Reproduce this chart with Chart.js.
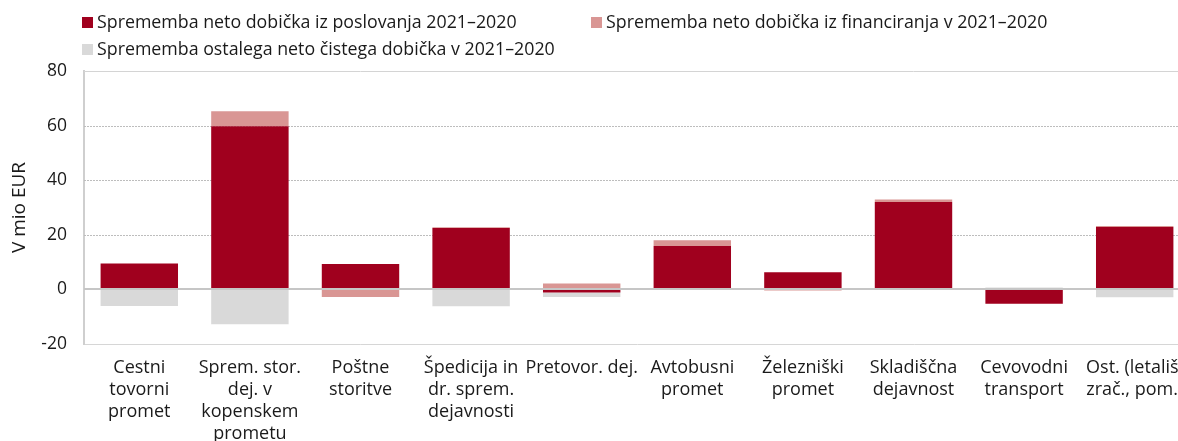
<!DOCTYPE html>
<html lang="sl">
<head>
<meta charset="UTF-8">
<title>Sprememba neto dobička 2021–2020</title>
<script src="https://cdn.jsdelivr.net/npm/chart.js"></script>
<style>
  html, body { margin: 0; padding: 0; background: #fff; overflow: hidden; }
  body { width: 1178px; height: 441px; position: relative; font-family: "Open Sans", sans-serif; color: #1a1a1a; }
  .wrap { position: absolute; left: 0; top: 0; width: 1190px; height: 441px; }
  .legend { position: absolute; left: 0; top: 8px; width: 1178px; font-size: 17.8px; line-height: 27px; }
  .item { position: absolute; white-space: nowrap; }
  .i0 { left: 82px; top: 0; }
  .i1 { left: 591px; top: 0; }
  .i2 { left: 82px; top: 27px; }
  .box { display: inline-block; width: 11px; height: 11px; margin-right: 4px; }
</style>
</head>
<body>
<div class="wrap"><canvas id="chart"></canvas></div>
<div class="legend" id="legend"></div>

<script>
  // kategorije (vrstice oznak na osi x)
  const categories = [
    ["Cestni", "tovorni", "promet"],
    ["Sprem. stor.", "dej. v", "kopenskem", "prometu"],
    ["Poštne", "storitve"],
    ["Špedicija in", "dr. sprem.", "dejavnosti"],
    ["Pretovor. dej."],
    ["Avtobusni", "promet"],
    ["Železniški", "promet"],
    ["Skladiščna", "dejavnost"],
    ["Cevovodni", "transport"],
    ["Ost. (letališ.", "zrač., pom.)"]
  ];

  const seriesNames = [
    "Sprememba neto dobička iz poslovanja 2021–2020",
    "Sprememba neto dobička iz financiranja v 2021–2020",
    "Sprememba ostalega neto čistega dobička v 2021–2020"
  ];

  // v mio EUR
  const poslovanje   = [9.5, 59.8, 9.3, 22.5, -1.1, 15.9, 6.3, 32.0, -5.3, 22.9];
  const financiranje = [0.0, 5.5, -2.8, 0.3, 2.2, 2.1, -0.4, 0.9, 0.0, 0.3];
  const ostalo       = [-6.1, -12.8, 0.0, -6.2, -1.7, 0.0, 0.0, 0.0, 0.7, -2.9];

  const yTicks = [-20, 0, 20, 40, 60, 80];
  const yTitle = "V mio EUR";

  const colors = ["#a0001e", "#d99694", "#d9d9d9"];
  const FONT = "'Open Sans', sans-serif";
  const TEXT = "#1a1a1a";

  // legenda
  const legend = document.getElementById("legend");
  seriesNames.forEach((name, i) => {
    const el = document.createElement("div");
    el.className = "item i" + i;
    el.innerHTML = `<span class="box" style="background:${colors[i]}"></span>${name}`;
    legend.appendChild(el);
  });

  // pikaste mrezne crte pod stolpci, zgornja crta polna
  const gridLines = {
    id: "gridLines",
    beforeDatasetsDraw(chart) {
      const { ctx, chartArea, scales } = chart;
      const top = yTicks[yTicks.length - 1];
      ctx.save();
      ctx.lineWidth = 1;
      yTicks.forEach(v => {
        if (v === 0 || v === yTicks[0]) return;
        const py = Math.round(scales.y.getPixelForValue(v)) + 0.5;
        ctx.strokeStyle = v === top ? "#d4d4d4" : "#bdbdbd";
        ctx.setLineDash(v === top ? [] : [2, 1]);
        ctx.beginPath();
        ctx.moveTo(chartArea.left, py);
        ctx.lineTo(chartArea.right, py);
        ctx.stroke();
      });
      ctx.restore();
    }
  };

  // nicelna crta nad stolpci
  const zeroLine = {
    id: "zeroLine",
    afterDatasetsDraw(chart) {
      const { ctx, chartArea, scales } = chart;
      const py = Math.round(scales.y.getPixelForValue(0));
      ctx.save();
      ctx.strokeStyle = "#c6c6c6";
      ctx.lineWidth = 2;
      ctx.beginPath();
      ctx.moveTo(chartArea.left, py);
      ctx.lineTo(chartArea.right, py);
      ctx.stroke();
      ctx.restore();
    }
  };

  new Chart(document.getElementById("chart"), {
    type: "bar",
    data: {
      labels: categories,
      datasets: [poslovanje, financiranje, ostalo].map((d, i) => ({
        label: seriesNames[i],
        data: d,
        backgroundColor: colors[i],
        borderWidth: 0,
        categoryPercentage: 1,
        barPercentage: 0.7
      }))
    },
    plugins: [gridLines, zeroLine],
    options: {
      responsive: true,
      maintainAspectRatio: false,
      animation: false,
      layout: { padding: { top: 71, left: 0, right: 0, bottom: 0 } },
      plugins: { legend: { display: false }, tooltip: { enabled: false } },
      scales: {
        x: {
          stacked: true,
          afterFit: s => { s.height = 97; s.paddingLeft = 0; s.paddingRight = 0; },
          grid: { display: false, drawTicks: false },
          border: { display: true, color: "#d6d6d6", width: 1 },
          ticks: {
            color: TEXT, padding: 13, maxRotation: 0, autoSkip: false,
            font: { family: FONT, size: 18, lineHeight: 1.22 }
          }
        },
        y: {
          stacked: true,
          min: yTicks[0],
          max: yTicks[yTicks.length - 1],
          afterFit: s => { s.width = 84; },
          afterBuildTicks: s => { s.ticks = yTicks.map(v => ({ value: v })); },
          border: { display: true, color: "#cfcfcf", width: 2 },
          grid: { display: false, drawTicks: false },
          ticks: { color: TEXT, padding: 17, font: { family: FONT, size: 17.5 } },
          title: {
            display: true, text: yTitle, color: TEXT,
            padding: { top: 8, bottom: 4 },
            font: { family: FONT, size: 19 }
          }
        }
      }
    }
  });
</script>
</body>
</html>
